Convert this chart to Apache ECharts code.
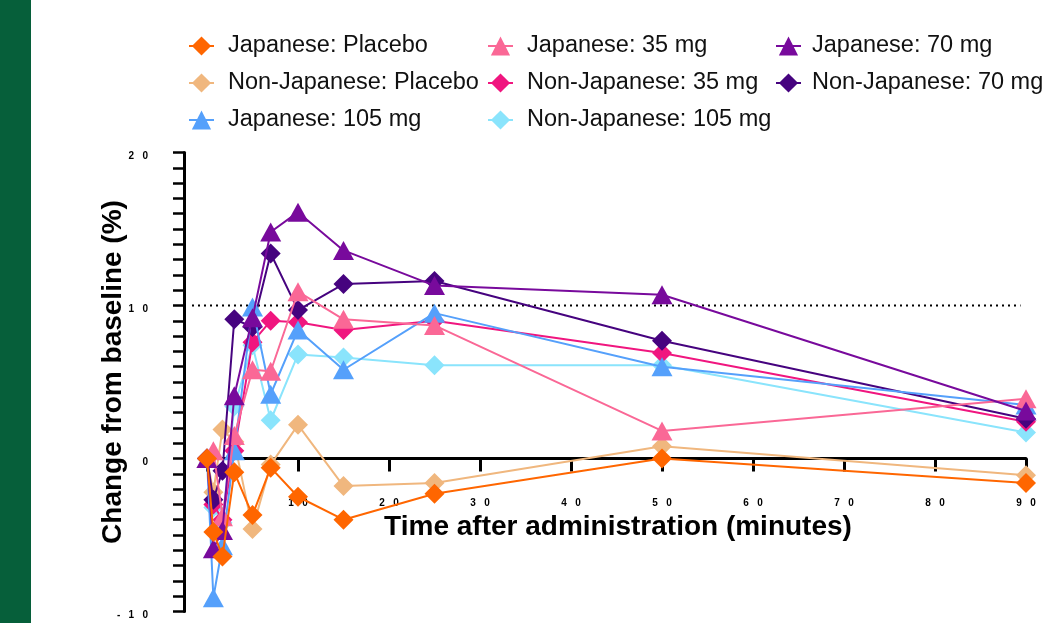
<!DOCTYPE html>
<html><head><meta charset="utf-8">
<script src="https://cdn.jsdelivr.net/npm/echarts@6/dist/echarts.min.js"></script>
<style>html,body{margin:0;padding:0;background:#fff}#c{width:1044px;height:623px}</style>
</head><body><div id="c"></div>
<script>
// ---- data ----
const times = [0, 0.7, 1.7, 3, 5, 7, 10, 15, 25, 50, 90];
const jpPlacebo    = [0, -4.8, -6.4, -0.9, -3.7, -0.6, -2.5, -4.0, -2.3, 0.0, -1.6];
const nonjpPlacebo = [0, -2.2, 1.9, 1.1, -4.6, -0.4, 2.2, -1.8, -1.6, 0.8, -1.1];
const jp35         = [0, 0.5, -3.8, 1.5, 5.8, 5.7, 10.9, 9.1, 8.7, 1.8, 3.9];
const nonjp35      = [0, -3.0, -4.0, 0.5, 7.6, 9.0, 8.9, 8.4, 9.0, 6.9, 2.4];
const jp70         = [0, -5.9, -4.7, 4.1, 9.2, 14.8, 16.1, 13.6, 11.3, 10.7, 3.1];
const nonjp70      = [0, -2.7, -0.8, 9.1, 8.6, 13.4, 9.7, 11.4, 11.6, 7.7, 2.6];
const jp105        = [0, -9.1, -5.7, 0.5, 9.9, 4.2, 8.4, 5.8, 9.5, 6.0, 3.5];
const nonjp105     = [0, -3.2, -4.2, 3.4, 7.4, 2.5, 6.8, 6.6, 6.1, 6.1, 1.7];
const referenceLevel = 10;
const legendCol1 = ['Japanese: Placebo', 'Non-Japanese: Placebo', 'Japanese: 105 mg'];
const legendCol2 = ['Japanese: 35 mg', 'Non-Japanese: 35 mg', 'Non-Japanese: 105 mg'];
const legendCol3 = ['Japanese: 70 mg', 'Non-Japanese: 70 mg'];
const xTitle = 'Time after administration (minutes)';
const yTitle = 'Change from baseline (%)';

// ---- chart ----
const chart = echarts.init(document.getElementById('c'), null, {renderer: 'canvas'});
const FONT = 'Arial, "Liberation Sans", sans-serif';
function mk(name, vals, symbol, color, z) {
  return {
    name, type: 'line', z,
    data: times.map((t, i) => [t, vals[i]]),
    symbol, symbolSize: symbol === 'diamond' ? [20, 20] : [21, 19],
    itemStyle: {color}, lineStyle: {color, width: 2},
    emphasis: {disabled: true}, animation: false
  };
}
const spaced = s => String(s).split('').join('   ');
function legendAt(left, data, pad) {
  return {
    orient: 'vertical', left, top: 29, data,
    itemWidth: 25, itemHeight: 24, itemGap: 13,
    textStyle: {fontFamily: FONT, fontSize: 23.5, color: '#111', lineHeight: 24, padding: [0, 0, 0, pad]},
    selectedMode: false
  };
}
const option = {
  backgroundColor: '#fff',
  animation: false,
  grid: {left: 207, right: 18, top: 152.5, bottom: 11.5, outerBoundsMode: 'none', containLabel: false},
  legend: [legendAt(183, legendCol1, 9), legendAt(482, legendCol2, 9), legendAt(770, legendCol3, 6)],
  xAxis: {
    type: 'value', min: 0, max: 90, interval: 10, position: 'bottom', offset: 0,
    axisLine: {onZero: false, lineStyle: {color: '#000', width: 3}},
    axisTick: {length: 13, lineStyle: {color: '#000', width: 3}},
    axisLabel: {margin: 40, fontFamily: FONT, fontSize: 10, fontWeight: 'bold', color: '#000',
      formatter: v => v === 0 ? '' : spaced(v)},
    splitLine: {show: false}
  },
  yAxis: {
    type: 'value', min: -10, max: 20, interval: 10, offset: 23,
    axisLine: {show: true, onZero: false, lineStyle: {color: '#000', width: 3}},
    axisTick: {show: true, length: 11, lineStyle: {color: '#000', width: 2.5}},
    minorTick: {show: true, splitNumber: 10, length: 11, lineStyle: {color: '#000', width: 2.5}},
    axisLabel: {margin: 36, verticalAlign: 'top', lineHeight: 8, fontFamily: FONT, fontSize: 10, fontWeight: 'bold', color: '#000',
      formatter: v => spaced(v)},
    splitLine: {show: false}
  },
  series: [
    mk('Non-Japanese: Placebo', nonjpPlacebo, 'diamond', '#F0B77E', 2),
    mk('Non-Japanese: 105 mg', nonjp105, 'diamond', '#8AE4FC', 3),
    mk('Non-Japanese: 35 mg', nonjp35, 'diamond', '#F0167F', 4),
    mk('Non-Japanese: 70 mg', nonjp70, 'diamond', '#46037F', 5),
    mk('Japanese: 105 mg', jp105, 'triangle', '#55A0FB', 6),
    mk('Japanese: 35 mg', jp35, 'triangle', '#FA6896', 7),
    mk('Japanese: 70 mg', jp70, 'triangle', '#780A9C', 8),
    mk('Japanese: Placebo', jpPlacebo, 'diamond', '#FF6600', 9)
  ],
  graphic: [
    {type: 'rect', left: 0, top: 0, shape: {width: 31, height: 623}, style: {fill: '#065F3A'}, silent: true},
    {type: 'text', x: 618, y: 527, silent: true,
      style: {text: xTitle, font: 'bold 28px ' + FONT, fill: '#000', textAlign: 'center', textVerticalAlign: 'middle'}},
    {type: 'text', x: 113, y: 372, rotation: Math.PI / 2, silent: true,
      style: {text: yTitle, font: 'bold 28px ' + FONT, fill: '#000', textAlign: 'center', textVerticalAlign: 'middle'}}
  ]
};
chart.setOption(option);
// move the x axis up to the zero line (via the y scale), and draw the dotted reference line
const yMinPx = chart.convertToPixel({yAxisIndex: 0}, -10);
const yZeroPx = chart.convertToPixel({yAxisIndex: 0}, 0);
const p0 = chart.convertToPixel({xAxisIndex: 0, yAxisIndex: 0}, [0, referenceLevel]);
const p1 = chart.convertToPixel({xAxisIndex: 0, yAxisIndex: 0}, [89.4, referenceLevel]);
chart.setOption({
  xAxis: {offset: -(yMinPx - yZeroPx)},
  graphic: option.graphic.concat([{
    type: 'line', silent: true, z: 1,
    shape: {x1: p0[0] - 15, y1: p0[1], x2: p1[0], y2: p1[1]},
    style: {stroke: '#000', lineWidth: 2, lineDash: [2, 4]}
  }])
});
</script>
</body></html>
